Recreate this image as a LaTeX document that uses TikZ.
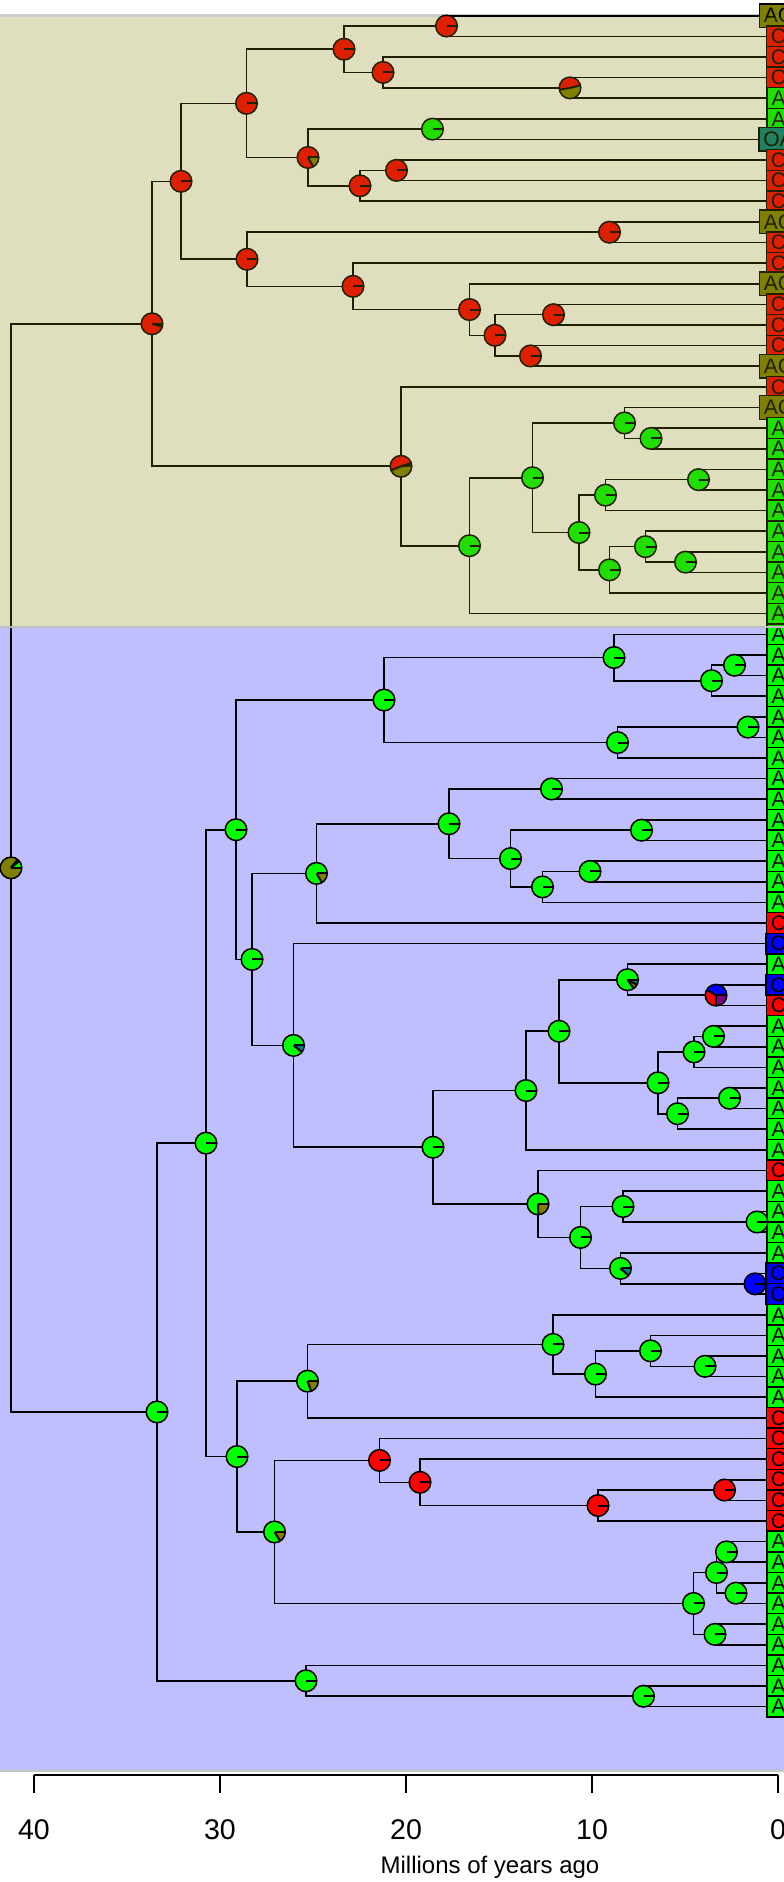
\documentclass[tikz,border=0pt]{standalone}
\usepackage{fontspec}
\setmainfont{Liberation Sans}
\definecolor{cG}{RGB}{0,255,0}
\definecolor{cR}{RGB}{255,0,0}
\definecolor{cB}{RGB}{0,0,255}
\definecolor{cOl}{RGB}{128,128,0}
\definecolor{cTe}{RGB}{0,128,128}
\definecolor{cPu}{RGB}{128,0,128}
\definecolor{bgBlue}{RGB}{191,191,255}
\newcommand\pieR{10.8}
\newcommand\mypie[2]{%
  \begin{scope}[shift={(#1)},x=1pt,y=1pt]
    \foreach \pa/\pb/\pc in {#2}{\fill[\pc] (0,0) -- (\pa:\pieR) arc[start angle=\pa, end angle=\pb, radius=\pieR] -- cycle;}
    \foreach \pa/\pb/\pc in {#2}{\draw[line width=2pt] (0,0) -- (\pa:\pieR);}
    \draw[line width=1.5pt] (0,0) circle[radius=\pieR];
  \end{scope}}
\begin{document}
\begin{tikzpicture}[x=1pt,y=-1pt,
  edge/.style={line width=1.6pt,black},
  tipbox/.style={draw=black,line width=1.4pt,minimum height=20.8pt,inner xsep=4.5pt,inner ysep=0pt,
    font=\fontsize{21}{21}\selectfont,text=black},
  tipA/.style={tipbox,fill=cG},
  tipC/.style={tipbox,fill=cR},
  tipO/.style={tipbox,fill=cB},
  tipAC/.style={tipbox,fill=cOl,minimum height=23.5pt},
  tipOA/.style={tipbox,fill=cTe,minimum height=23.5pt},
  ticklab/.style={font=\fontsize{28.5}{30}\selectfont}]
\clip (0,0) rectangle (784,1882);
\fill[white] (0,0) rectangle (784,1882);
% backgrounds
\fill[bgBlue] (-5,626) rectangle (800,1771);
\draw[gray!40,line width=2.5pt] (-5,15.5) -- (800,15.5);
\draw[gray!45,line width=2.5pt] (-5,1771) -- (800,1771);
% tips
\foreach \lab [count=\i] in {AC,C,C,C,A,A,OA,C,C,C,AC,C,C,AC,C,C,C,AC,C,AC,
  A,A,A,A,A,A,A,A,A,A,
  A,A,A,A,A,A,A,A,A,A,A,A,A,A,C,O,A,O,C,A,A,A,A,A,A,A,C,A,A,A,A,O,O,
  A,A,A,A,A,C,C,C,C,C,C,A,A,A,A,A,A,A,A,A}
  \node[tip\lab] (t\i) at (778.5,{15.7+20.62*(\i-1)}) {\lab};
% internal nodes (upper clade)
\coordinate (a1) at (446.5,26.01);
\coordinate (a2) at (344,49.21);
\coordinate (a3) at (383,72.41);
\coordinate (a4) at (570,87.87);
\coordinate (a5) at (246.5,103.34);
\coordinate (a6) at (308,157.47);
\coordinate (a7) at (432.5,129.11);
\coordinate (a8) at (360,185.82);
\coordinate (a9) at (396.5,170.35);
\coordinate (a10) at (181,181.31);
\coordinate (a11) at (247,259.28);
\coordinate (a12) at (609.5,232.21);
\coordinate (a13) at (353,286.34);
\coordinate (a14) at (469.5,309.54);
\coordinate (a15) at (495,335.31);
\coordinate (a16) at (553.5,314.69);
\coordinate (a17) at (530.5,355.93);
\coordinate (a18) at (152,323.80);
\coordinate (a19) at (401,466.29);
\coordinate (a20) at (469.5,545.71);
\coordinate (a21) at (532.5,477.73);
\coordinate (a22) at (624.5,422.95);
\coordinate (a23) at (579,532.50);
\coordinate (a24) at (651,438.41);
\coordinate (a25) at (605.5,495.12);
\coordinate (a26) at (609.5,569.87);
\coordinate (a27) at (698.5,479.65);
\coordinate (a28) at (645.5,546.67);
\coordinate (a29) at (685.5,562.13);
% lower clade
\coordinate (b1) at (614,657.50);
\coordinate (b2) at (711.5,680.70);
\coordinate (b3) at (734.5,665.23);
\coordinate (b4) at (384,700.03);
\coordinate (b5) at (617.5,742.56);
\coordinate (b6) at (748,727.09);
\coordinate (b7) at (236,829.72);
\coordinate (b8) at (316.5,873.37);
\coordinate (b9) at (449,823.75);
\coordinate (b10) at (551.5,788.95);
\coordinate (b11) at (510.5,858.55);
\coordinate (b12) at (641.5,830.19);
\coordinate (b13) at (542.5,886.90);
\coordinate (b14) at (590,871.43);
\coordinate (b15) at (252,959.40);
\coordinate (b16) at (293.5,1045.42);
\coordinate (b17) at (206,1143.13);
\coordinate (b18) at (433,1147.23);
\coordinate (b19) at (526,1090.52);
\coordinate (b20) at (538,1203.93);
\coordinate (b21) at (559,1031.24);
\coordinate (b22) at (627.5,979.69);
\coordinate (b23) at (658,1082.79);
\coordinate (b24) at (716,995.15);
\coordinate (b25) at (694,1051.86);
\coordinate (b26) at (677.5,1113.72);
\coordinate (b27) at (713.5,1036.39);
\coordinate (b28) at (729.5,1098.25);
\coordinate (b29) at (580.5,1237.44);
\coordinate (b30) at (237,1456.53);
\coordinate (b40) at (306,1680.77);
\coordinate (c1) at (623,1206.51);
\coordinate (c2) at (757,1221.97);
\coordinate (c3) at (620.5,1268.37);
\coordinate (c4) at (755,1283.83);
\coordinate (c5) at (307.5,1381.14);
\coordinate (c6) at (274.5,1531.92);
\coordinate (c7) at (553,1344.41);
\coordinate (c8) at (595.5,1374.05);
\coordinate (c9) at (650.5,1350.85);
\coordinate (c10) at (705,1366.31);
\coordinate (c11) at (379.5,1460.39);
\coordinate (c12) at (693.5,1603.44);
\coordinate (c13) at (420,1482.30);
\coordinate (c14) at (598,1505.50);
\coordinate (c15) at (724.5,1490.03);
\coordinate (c16) at (716.5,1572.51);
\coordinate (c17) at (715,1634.37);
\coordinate (c18) at (726.5,1551.89);
\coordinate (c19) at (736,1593.13);
\coordinate (c20) at (643.5,1696.23);
\coordinate (broot) at (157,1411.95);
\coordinate (root) at (11,867.88);
% edges
\foreach \p/\q in {root/a18,root/broot,a18/a10,a18/a19,a10/a5,a10/a11,a5/a2,a5/a6,
  a2/a1,a2/a3,a1/t1,a1/t2,a3/t3,a3/a4,a4/t4,a4/t5,a6/a7,a6/a8,a7/t6,a7/t7,a8/a9,a8/t10,
  a9/t8,a9/t9,a11/a12,a11/a13,a12/t11,a12/t12,a13/t13,a13/a14,a14/t14,a14/a15,a15/a16,a15/a17,
  a16/t15,a16/t16,a17/t17,a17/t18,a19/t19,a19/a20,a20/a21,a20/t30,a21/a22,a21/a23,a22/t20,a22/a24,
  a24/t21,a24/t22,a23/a25,a23/a26,a25/a27,a25/t25,a27/t23,a27/t24,a26/a28,a26/t29,a28/t26,a28/a29,
  a29/t27,a29/t28,
  broot/b17,broot/b40,b17/b7,b17/b30,b7/b4,b7/b15,b4/b1,b4/b5,b1/t31,b1/b2,b2/b3,b2/t34,
  b3/t32,b3/t33,b5/b6,b5/t37,b6/t35,b6/t36,b15/b8,b15/b16,b8/b9,b8/t45,b9/b10,b9/b11,
  b10/t38,b10/t39,b11/b12,b11/b13,b12/t40,b12/t41,b13/b14,b13/t44,b14/t42,b14/t43,
  b16/t46,b16/b18,b18/b19,b18/b20,b19/b21,b19/t56,b21/b22,b21/b23,b22/t47,b22/b24,
  b24/t48,b24/t49,b23/b25,b23/b26,b25/b27,b25/t52,b27/t50,b27/t51,b26/b28,b26/t55,
  b28/t53,b28/t54,b20/t57,b20/b29,b29/c1,b29/c3,c1/t58,c1/c2,c2/t59,c2/t60,c3/t61,c3/c4,
  c4/t62,c4/t63,b30/c5,b30/c6,c5/c7,c5/t69,c7/t64,c7/c8,c8/c9,c8/t68,c9/t65,c9/c10,
  c10/t66,c10/t67,c6/c11,c6/c12,c11/t70,c11/c13,c13/t71,c13/c14,c14/c15,c14/t74,
  c15/t72,c15/t73,c12/c16,c12/c17,c16/c18,c16/c19,c18/t75,c18/t76,c19/t77,c19/t78,
  c17/t79,c17/t80,b40/t81,b40/c20,c20/t82,c20/t83}
  \draw[edge] (\p) |- (\q);
% pies
\foreach \n in {a1,a2,a3,a5,a8,a9,a10,a11,a12,a13,a14,a15,a16,a17,c11,c13,c14,c15}
  \mypie{\n}{0/360/cR};
\foreach \n in {a7,a20,a21,a22,a23,a24,a25,a26,a27,a28,a29,
  b1,b2,b3,b4,b5,b6,b7,b9,b10,b11,b12,b13,b14,b15,b17,b18,b19,b21,b23,b25,b26,b27,b28,b29,
  b30,b40,c1,c2,c7,c8,c9,c10,c12,c16,c17,c18,c19,c20,broot}
  \mypie{\n}{0/360/cG};
\mypie{c4}{0/360/cB}
\mypie{root}{0/40/cG,40/52/cR,52/360/cOl}
\mypie{a4}{14/190/cR,190/374/cOl}
\mypie{a6}{0/300/cR,300/360/cOl}
\mypie{a18}{0/345/cR,345/360/cOl}
\mypie{a19}{5/17/cG,17/202/cR,202/365/cOl}
\mypie{b8}{0/300/cG,300/360/cOl}
\mypie{b16}{0/322/cG,322/360/cTe}
\mypie{b20}{0/272/cG,272/360/cOl}
\mypie{b22}{0/305/cG,305/332/cOl,332/360/cTe}
\mypie{b24}{0/150/cB,150/270/cR,270/360/cPu}
\mypie{c3}{0/318/cG,318/360/cTe}
\mypie{c5}{0/290/cG,290/360/cOl}
\mypie{c6}{0/302/cG,302/360/cOl}
% beige overlay for upper clade
\fill[cOl,opacity=0.25] (-5,17) rectangle (800,626);
\draw[gray!50,line width=2pt] (-5,626.5) -- (800,626.5);
% axis
\draw[line width=1.4pt] (34,1775) -- (778,1775);
\foreach \v/\xx in {40/34,30/220,20/406,10/592,0/778}{
  \draw[line width=1.4pt] (\xx,1775) -- (\xx,1793);
  \node[ticklab] (lab\v) at (\xx,1830) {\v};
}
\node[font=\fontsize{24}{26}\selectfont] (xlab) at (490,1867) {Millions of years ago};
\end{tikzpicture}
\end{document}
